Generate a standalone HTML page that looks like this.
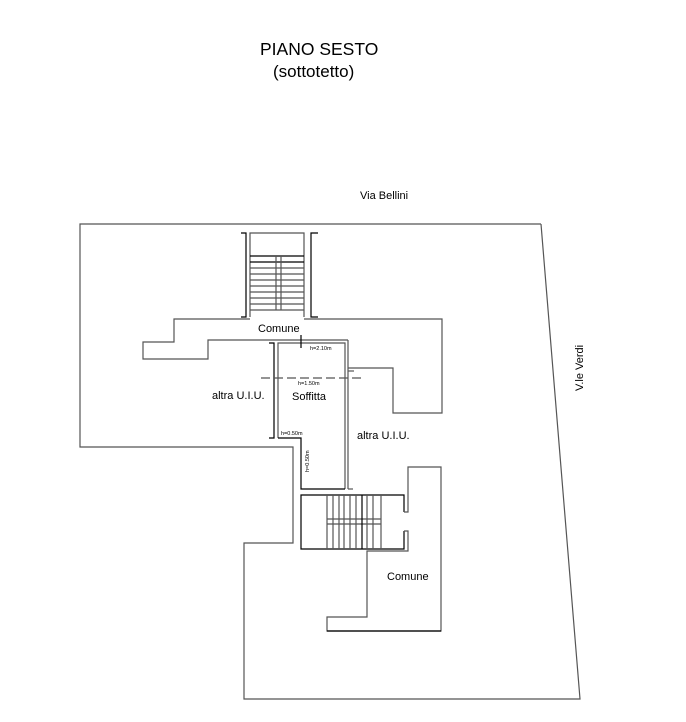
<!DOCTYPE html>
<html><head><meta charset="utf-8"><style>
html,body{margin:0;padding:0;background:#fff;}
svg{display:block;}
text{font-family:"Liberation Sans",sans-serif;fill:#000;}
</style></head><body>
<svg width="686" height="722" viewBox="0 0 686 722" xmlns="http://www.w3.org/2000/svg">
<g fill="none" stroke="#555" stroke-width="1.2">
<!-- outer boundary -->
<polyline points="541,224 80,224 80,447 293,447 293,543 244,543 244,699 580,699 541,224"/>
<!-- upper stair -->
<polyline points="241,233 246,233 246,317 241,317" stroke="#000"/>
<polyline points="318,233 311,233 311,317 318,317" stroke="#000"/>
<polyline points="250,317 250,233 304,233 304,317"/>
<line x1="250" y1="256" x2="304" y2="256" stroke="#000"/>
<line x1="250" y1="262" x2="304" y2="262" stroke="#000"/>
<line x1="250" y1="268" x2="304" y2="268"/><line x1="250" y1="274" x2="304" y2="274"/>
<line x1="250" y1="280" x2="304" y2="280"/><line x1="250" y1="286" x2="304" y2="286"/>
<line x1="250" y1="292" x2="304" y2="292"/><line x1="250" y1="298" x2="304" y2="298"/>
<line x1="250" y1="304" x2="304" y2="304"/><line x1="250" y1="310" x2="304" y2="310"/>
<line x1="276" y1="256" x2="276" y2="310"/><line x1="281" y1="256" x2="281" y2="310"/>
<!-- comune upper outline -->
<polyline points="250,319 174,319 174,342 143,342 143,359 208,359 208,340 348,340"/>
<polyline points="304,319 442,319 442,413 393,413 393,368 348,368"/>
<!-- soffitta -->
<polyline points="269,343 274,343 274,438 269,438" stroke="#000"/>
<polyline points="278,438 278,343 345,343 345,489"/>
<line x1="348" y1="340" x2="348" y2="489"/>
<line x1="348" y1="489" x2="353" y2="489"/>
<polyline points="278,438 301,438 301,489 345,489" stroke="#000"/>
<line x1="348" y1="371" x2="354" y2="371"/>
<line x1="301" y1="335" x2="301" y2="348" stroke="#000"/>
<line x1="261" y1="378" x2="362" y2="378" stroke-dasharray="9,4"/>
<!-- lower stair -->
<polyline points="404,512 404,495 301,495 301,549 404,549 404,531" stroke="#000"/>
<line x1="327" y1="519" x2="381" y2="519"/><line x1="327" y1="524" x2="381" y2="524"/>
<line x1="327" y1="495" x2="327" y2="549"/><line x1="333" y1="495" x2="333" y2="549"/>
<line x1="339" y1="495" x2="339" y2="549"/><line x1="344" y1="495" x2="344" y2="549"/>
<line x1="350" y1="495" x2="350" y2="549"/><line x1="356" y1="495" x2="356" y2="549"/>
<line x1="362" y1="495" x2="362" y2="549" stroke="#000"/><line x1="367" y1="495" x2="367" y2="549"/>
<line x1="373" y1="495" x2="373" y2="549"/><line x1="381" y1="495" x2="381" y2="549"/>
<!-- lower comune -->
<polyline points="404,512 408,512 408,467 441,467 441,631 327,631 327,617 367,617 367,551 408,551 408,531 404,531"/>
<line x1="327" y1="631" x2="441" y2="631" stroke="#000"/>
</g>
<text x="260" y="55" font-size="17.5">PIANO SESTO</text>
<text x="273" y="77" font-size="17">(sottotetto)</text>
<text x="360" y="199" font-size="11">Via Bellini</text>
<text transform="translate(583,391) rotate(-90)" font-size="11">V.le Verdi</text>
<text x="258" y="332" font-size="11">Comune</text>
<text x="212" y="399" font-size="11">altra U.I.U.</text>
<text x="292" y="400" font-size="11">Soffitta</text>
<text x="357" y="439" font-size="11">altra U.I.U.</text>
<text x="387" y="580" font-size="11">Comune</text>
<text x="310" y="350" font-size="5.5">h=2.10m</text>
<text x="298" y="385" font-size="5.5">h=1.50m</text>
<text x="281" y="435" font-size="5.5">h=0.50m</text>
<text transform="translate(309,472) rotate(-90)" font-size="5.5">h=0.50m</text>
</svg>
</body></html>
